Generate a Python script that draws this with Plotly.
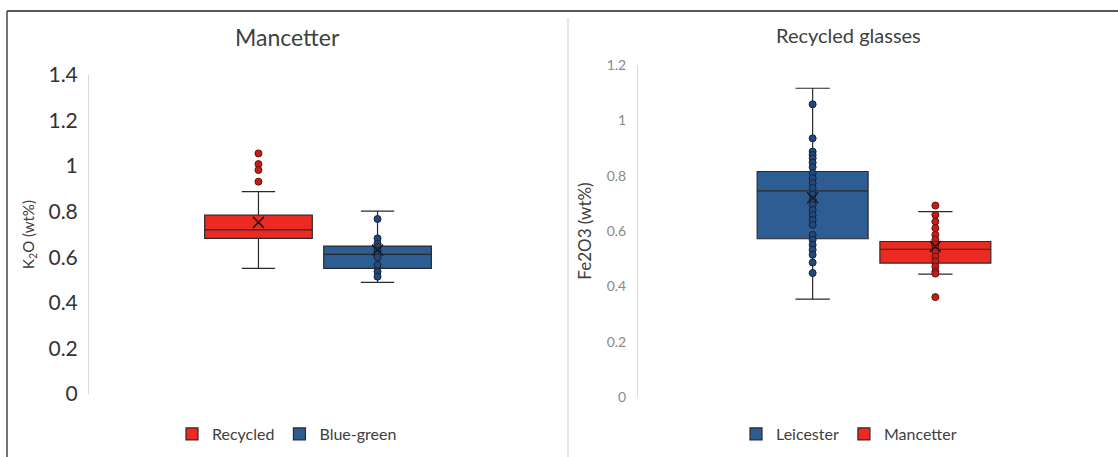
import plotly.graph_objects as go

W, H = 1118, 457

# ---------------- data ----------------
# Left panel: Mancetter, K2O (wt%)
left_title = "Mancetter"
left_ytitle = "K<sub>2</sub>O (wt%)"
left_series = ["Recycled", "Blue-green"]
left_q1 = [0.683, 0.551]
left_median = [0.720, 0.613]
left_q3 = [0.785, 0.649]
left_lower = [0.551, 0.490]
left_upper = [0.888, 0.803]
left_mean = [0.753, 0.632]
recycled_outliers = [1.056, 1.009, 0.983, 0.932]
bluegreen_points = [0.768, 0.683, 0.660, 0.646, 0.630, 0.617, 0.600, 0.566, 0.537, 0.515]
left_ticks = [0, 0.2, 0.4, 0.6, 0.8, 1.0, 1.2, 1.4]
left_ticklabels = ["0", "0.2", "0.4", "0.6", "0.8", "1", "1.2", "1.4"]

# Right panel: Recycled glasses, Fe2O3 (wt%)
right_title = "Recycled glasses"
right_ytitle = "Fe2O3 (wt%)"
right_series = ["Leicester", "Mancetter"]
right_q1 = [0.572, 0.484]
right_median = [0.745, 0.534]
right_q3 = [0.815, 0.562]
right_lower = [0.354, 0.444]
right_upper = [1.116, 0.670]
right_mean = [0.720, 0.544]
leicester_points = [1.058, 0.935, 0.887, 0.875, 0.863, 0.847, 0.831, 0.809, 0.791,
                    0.773, 0.755, 0.731, 0.713, 0.694, 0.676, 0.658, 0.640, 0.622,
                    0.586, 0.568, 0.550, 0.532, 0.514, 0.486, 0.448]
mancetter_points = [0.692, 0.658, 0.634, 0.610, 0.586, 0.568, 0.550, 0.538, 0.526,
                    0.508, 0.490, 0.472, 0.454, 0.446, 0.361]
right_ticks = [0, 0.2, 0.4, 0.6, 0.8, 1.0, 1.2]
right_ticklabels = ["0", "0.2", "0.4", "0.6", "0.8", "1", "1.2"]

# ---------------- styles ----------------
RED = "#EC2A22"
BLUE = "#2D5D93"
RED_DOT = "#C31D1A"
RED_DOT_LINE = "#6E0E0C"
BLUE_DOT = "#25487A"
BLUE_DOT_LINE = "#13233C"
EDGE = "#2A2A2A"
FONT = "Lato"

BOX_W = 0.235
GAP = 0.025
centers = [0.5 - (BOX_W + GAP) / 2, 0.5 + (BOX_W + GAP) / 2]


def px_x(x):
    return x / W


def px_y(y):
    return 1 - y / H


fig = go.Figure()


def add_panel(xa, ya, legend, names, fills, q1, med, q3, lo, up, mean, pts_list, dot_styles):
    for i, name in enumerate(names):
        fig.add_trace(go.Box(
            x=[centers[i]], q1=[q1[i]], median=[med[i]], q3=[q3[i]],
            lowerfence=[lo[i]], upperfence=[up[i]],
            width=BOX_W, whiskerwidth=0.31, boxpoints=False,
            fillcolor=fills[i], line=dict(color=EDGE, width=1.2),
            name=name, xaxis=xa, yaxis=ya, legend=legend, hoverinfo="skip",
        ))
    for i, pts in enumerate(pts_list):
        fc, lc = dot_styles[i]
        fig.add_trace(go.Scatter(
            x=[centers[i]] * len(pts), y=pts, mode="markers",
            marker=dict(size=7, color=fc, line=dict(color=lc, width=1)),
            showlegend=False, xaxis=xa, yaxis=ya, hoverinfo="skip",
        ))
    fig.add_trace(go.Scatter(
        x=centers, y=mean, mode="markers",
        marker=dict(symbol="x-thin", size=11, line=dict(color="#1a1a1a", width=1.6)),
        showlegend=False, xaxis=xa, yaxis=ya, hoverinfo="skip",
    ))


add_panel("x", "y", "legend", left_series, [RED, BLUE],
          left_q1, left_median, left_q3, left_lower, left_upper, left_mean,
          [recycled_outliers, bluegreen_points],
          [(RED_DOT, RED_DOT_LINE), (BLUE_DOT, BLUE_DOT_LINE)])
add_panel("x2", "y2", "legend2", right_series, [BLUE, RED],
          right_q1, right_median, right_q3, right_lower, right_upper, right_mean,
          [leicester_points, mancetter_points],
          [(BLUE_DOT, BLUE_DOT_LINE), (RED_DOT, RED_DOT_LINE)])

hidden_x = dict(range=[0, 1], showgrid=False, zeroline=False, showticklabels=False,
                showline=False, ticks="", fixedrange=True, automargin=False)

fig.update_layout(
    template="none",
    width=W, height=H,
    autosize=False,
    margin=dict(l=0, r=0, t=0, b=0, pad=0),
    paper_bgcolor="white", plot_bgcolor="white",
    font=dict(family=FONT, color="#404040"),
    showlegend=True,
    xaxis=dict(domain=[px_x(89), px_x(547)], anchor="y", **hidden_x),
    yaxis=dict(domain=[px_y(394), px_y(75)], range=[0, 1.4], anchor="x", automargin=False,
               tickvals=left_ticks, ticktext=left_ticklabels,
               showgrid=False, zeroline=False, showline=True,
               linecolor="#DADADA", linewidth=1, ticks="",
               tickfont=dict(size=21, color="#333333", family=FONT),
               ticklabelstandoff=6,
               title=dict(text=left_ytitle, font=dict(size=15, color="#404040"), standoff=10)),
    xaxis2=dict(domain=[px_x(638), px_x(1110)], anchor="y2", **hidden_x),
    yaxis2=dict(domain=[px_y(397), px_y(65)], range=[0, 1.2], anchor="x2", automargin=False,
                tickvals=right_ticks, ticktext=right_ticklabels,
                showgrid=False, zeroline=False, showline=True,
                linecolor="#DADADA", linewidth=1, ticks="",
                tickfont=dict(size=14, color="#8A8A8A", family=FONT),
                ticklabelstandoff=8,
                title=dict(text=right_ytitle, font=dict(size=17, color="#404040"), standoff=10)),
    legend=dict(orientation="h", x=px_x(287), xanchor="center", y=px_y(434), yanchor="middle",
                font=dict(size=16, color="#404040"), itemwidth=30, tracegroupgap=0,
                bgcolor="rgba(0,0,0,0)", borderwidth=0),
    legend2=dict(orientation="h", x=px_x(849), xanchor="center", y=px_y(434), yanchor="middle",
                 font=dict(size=16, color="#404040"), itemwidth=30, tracegroupgap=0,
                 bgcolor="rgba(0,0,0,0)", borderwidth=0),
    annotations=[
        dict(text=left_title, x=px_x(287), y=px_y(37), xref="paper", yref="paper",
             showarrow=False, xanchor="center", yanchor="middle",
             font=dict(size=23, color="#404040", family=FONT)),
        dict(text=right_title, x=px_x(848), y=px_y(35), xref="paper", yref="paper",
             showarrow=False, xanchor="center", yanchor="middle",
             font=dict(size=20, color="#404040", family=FONT)),
    ],
    shapes=[
        dict(type="line", xref="paper", yref="paper", x0=px_x(7), x1=1, y0=px_y(11), y1=px_y(11),
             line=dict(color="#222222", width=1.5)),
        dict(type="line", xref="paper", yref="paper", x0=px_x(7), x1=px_x(7), y0=px_y(11), y1=0,
             line=dict(color="#444444", width=1.5)),
        dict(type="line", xref="paper", yref="paper", x0=px_x(568), x1=px_x(568), y0=px_y(18), y1=0,
             line=dict(color="#E6E6E6", width=2)),
    ],
)

fig.write_html(
    "out.html",
    config={"displayModeBar": False},
    post_script="document.body.style.margin='0';document.body.style.overflow='hidden';",
)
